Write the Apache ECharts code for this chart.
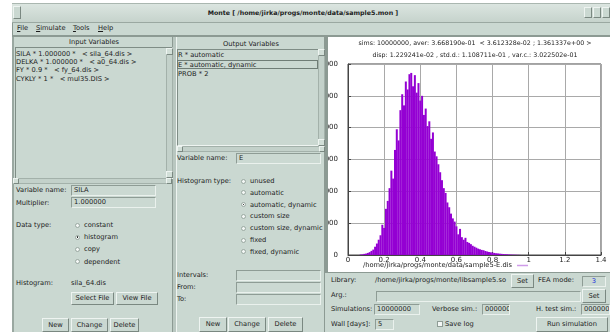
<!DOCTYPE html>
<html>
<head>
<meta charset="utf-8">
<script src="https://cdn.jsdelivr.net/npm/echarts@6/dist/echarts.min.js"></script>
<style>
  html, body { margin: 0; padding: 0; background: #ffffff; width: 610px; height: 332px; overflow: hidden; }
  #app { position: relative; width: 610px; height: 332px; font-family: "DejaVu Sans", sans-serif; font-size: 6.7px; color: #1c1c1c; }
  .lbl { position: absolute; white-space: nowrap; height: 10px; line-height: 10px; }
  .box { position: absolute; box-sizing: border-box; }
  .field { position: absolute; box-sizing: border-box; border: 1px solid; border-color: #8e9c95 #eaf1ed #eaf1ed #8e9c95; background: #cbd9d2; white-space: nowrap; padding-left: 2px; overflow: hidden; }
  .btn { position: absolute; box-sizing: border-box; border: 1px solid; border-color: #eef4f1 #7a8881 #7a8881 #eef4f1; background: #cad8d1; text-align: center; white-space: nowrap; }
  .sunken { position: absolute; box-sizing: border-box; border: 1px solid; border-color: #7f8d86 #eef4f1 #eef4f1 #7f8d86; background: #cad8d1; }
  .radio { position: absolute; width: 5px; height: 5px; border-radius: 50%; background: #f3f7f5; border: 1px solid #9aa8a1; box-sizing: border-box; }
  .radio.on::after { content: ""; position: absolute; left: 0.7px; top: 0.7px; width: 1.6px; height: 1.6px; border-radius: 50%; background: #111; }
  .check { position: absolute; width: 6px; height: 6px; background: #f3f7f5; border: 1px solid #8e9c95; box-sizing: border-box; }
  .scroll { position: absolute; box-sizing: border-box; background: #c3d1ca; border: 1px solid #a3b1aa; }
  .arrow { position: absolute; box-sizing: border-box; background: #d2dfd8; border: 1px solid; border-color: #eef4f1 #7a8881 #7a8881 #eef4f1; }
  u { text-decoration: underline; }
</style>
</head>
<body>
<div id="app"></div>
<script>
// ---- histogram of output variable E (bin centre -> count) ----
const binCenters = [
  0.06, 0.07, 0.08, 0.09, 0.10, 0.11, 0.12, 0.13, 0.14, 0.15,
  0.16, 0.17, 0.18, 0.19, 0.20, 0.21, 0.22, 0.23, 0.24, 0.25,
  0.26, 0.27, 0.28, 0.29, 0.30, 0.31, 0.32, 0.33, 0.34, 0.35,
  0.36, 0.37, 0.38, 0.39, 0.40, 0.41, 0.42, 0.43, 0.44, 0.45,
  0.46, 0.47, 0.48, 0.49, 0.50, 0.51, 0.52, 0.53, 0.54, 0.55,
  0.56, 0.57, 0.58, 0.59, 0.60, 0.61, 0.62, 0.63, 0.64, 0.65,
  0.66, 0.67, 0.68, 0.69, 0.70, 0.71, 0.72, 0.73, 0.74, 0.75,
  0.76, 0.77, 0.78, 0.79, 0.80, 0.81, 0.82, 0.83, 0.84, 0.85,
  0.86, 0.87, 0.88, 0.89, 0.90, 0.91, 0.92, 0.93, 0.94, 0.95
];
const counts = [
  0, 150, 200, 350, 450, 650, 900, 1300, 1700, 2600,
  3600, 4800, 6200, 9500, 8500, 14500, 17000, 21000, 26500, 24000,
  33000, 39500, 36000, 45500, 50500, 47000, 54500, 52000, 56800, 57200,
  53000, 56500, 51000, 54000, 48500, 50000, 44000, 46000, 40500, 42000,
  36500, 38500, 32500, 31000, 28500, 26000, 23500, 21000, 19500, 16500,
  15000, 13000, 11500, 10500, 9000, 6500, 8200, 5600, 4800, 5400,
  4100, 3800, 3400, 2900, 2600, 2300, 2000, 1800, 1600, 1500,
  1250, 1100, 950, 850, 750, 650, 550, 480, 420, 360,
  300, 260, 220, 180, 150, 120, 100, 80, 60, 40
];
const seriesName = '/home/jirka/progs/monte/data/sample5-E.dis';
const statsLines = [
  'sims: 10000000, aver: 3.668190e-01  < 3.612328e-02 ; 1.361337e+00 >',
  'disp: 1.229241e-02 , std.d.: 1.108711e-01 , var.c.: 3.022502e-01'
];
const xRange = [0, 1.4, 0.2];
const yRange = [0, 60000, 10000];

// ---- window widgets ----
const app = document.getElementById('app');
function add(cls, x, y, w, h, html, css) {
  const d = document.createElement('div');
  d.className = cls;
  d.style.left = x + 'px';
  d.style.top = y + 'px';
  if (w != null) d.style.width = w + 'px';
  if (h != null) d.style.height = h + 'px';
  if (html != null) d.innerHTML = html;
  if (css) Object.assign(d.style, css);
  app.appendChild(d);
  return d;
}
function label(x, cy, text, css) { return add('lbl', x, cy - 5, null, null, text, css); }
function field(x, y, w, h, text, css) {
  return add('field', x, y, w, h, text || '', Object.assign({ lineHeight: (h - 2) + 'px' }, css || {}));
}
function button(x, y, w, h, text) { return add('btn', x, y, w, h, text, { lineHeight: (h - 2) + 'px' }); }
function radio(cx, cy, on) { return add('radio' + (on ? ' on' : ''), cx - 2.5, cy - 2.5, null, null, null); }
function vscroll(x, y, h) {
  add('scroll', x, y, 7, h, null);
  add('arrow', x, y, 7, 7, null);
  add('arrow', x, y + h - 7, 7, 7, null);
}
function hscroll(x, y, w) {
  add('scroll', x, y, w, 6, null);
  add('arrow', x, y, 6, 6, null);
  add('arrow', x + w - 6, y, 6, 6, null);
}

// window body and title bar
add('box', 12, 3, 598, 329, null, { background: '#cad8d1', borderLeft: '1px solid #8a9891' });
add('box', 12, 3, 598, 20, null, { background: 'linear-gradient(#dbe5e0, #c6d3cc)', borderBottom: '1px solid #9aa8a1', borderTop: '1px solid #aab7b0' });
add('btn', 13, 6, 8, 13, '', { fontSize: '6px' });
add('btn', 584, 7, 8, 11, '');
add('btn', 593, 7, 8, 11, '');
add('btn', 602, 7, 8, 11, '');
label(303, 13, 'Monte [ /home/jirka/progs/monte/data/sample5.mon ]', { transform: 'translateX(-50%)', fontWeight: 'bold', fontSize: '6.3px' });

// menu bar
label(17, 28, '<u>F</u>ile');
label(36, 28, '<u>S</u>imulate');
label(73, 28, '<u>T</u>ools');
label(98, 28, '<u>H</u>elp');
add('box', 12, 35, 598, 2, null, { background: '#8c9a93' });

// column frames
add('box', 12, 37, 161, 295, null, { borderLeft: '2px solid #9aa8a1', borderRight: '1px solid #8c9a93' });
add('box', 173, 37, 3, 295, null, { background: '#b9c7c0' });
add('box', 176, 37, 149, 295, null, { borderLeft: '1px solid #eef4f1', borderRight: '1px solid #8c9a93' });
add('box', 325, 37, 3, 236, null, { background: '#8c9a93' });

// ---- input variables column ----
label(94, 42, 'Input Variables', { transform: 'translateX(-50%)' });
add('sunken', 15, 47, 158, 132, null);
['SILA * 1.000000 *&nbsp;&nbsp; &lt; sila_64.dis &gt;',
 'DELKA * 1.000000 *&nbsp;&nbsp; &lt; a0_64.dis &gt;',
 'FY * 0.9 *&nbsp;&nbsp; &lt; fy_64.dis &gt;',
 'CYKLY * 1 *&nbsp;&nbsp; &lt; mul35.DIS &gt;'].forEach((t, i) => label(16, 54 + i * 8.2, t));
vscroll(166, 48, 130);
hscroll(13, 178, 159);
label(16, 190, 'Variable name:');
field(71, 185, 85, 11, 'SILA');
label(16, 203, 'Multiplier:');
field(71, 197, 85, 11, '1.000000');
label(16, 225, 'Data type:');
[['constant', false], ['histogram', true], ['copy', false], ['dependent', false]].forEach((r, i) => {
  const cy = 225 + i * 12.2;
  radio(77.5, cy, r[1]);
  label(84, cy, r[0]);
});
label(16, 283, 'Histogram:');
label(71, 283, 'sila_64.dis');
button(71, 292, 43, 13, 'Select File');
button(116, 292, 42, 13, 'View File');
button(42, 318, 27, 14, 'New');
button(71, 318, 37, 14, 'Change');
button(110, 318, 29, 14, 'Delete');

// ---- output variables column ----
label(251, 44, 'Output Variables', { transform: 'translateX(-50%)' });
add('sunken', 177, 49, 142, 97, null);
label(178, 55, 'R * automatic');
add('box', 177, 60, 141, 9, null, { border: '1px solid #6f7d76' });
label(178, 64.5, 'E * automatic, dynamic');
label(178, 73.5, 'PROB * 2');
vscroll(318, 49, 97);
hscroll(177, 146, 148);
label(177, 158, 'Variable name:');
field(236, 153, 85, 11, 'E');
label(177, 181, 'Histogram type:');
['unused', 'automatic', 'automatic, dynamic', 'custom size', 'custom size, dynamic', 'fixed', 'fixed, dynamic']
  .forEach((t, i) => {
    const cy = 181 + i * 11.8;
    radio(243.5, cy, i === 2);
    label(250, cy, t);
  });
label(177, 275, 'Intervals:');
field(236, 270, 85, 11, '');
label(177, 287, 'From:');
field(236, 282, 85, 11, '');
label(177, 299, 'To:');
field(236, 294, 85, 11, '');
button(199, 317, 28, 15, 'New');
button(228, 317, 38, 15, 'Change');
button(268, 317, 35, 15, 'Delete');

// ---- simulation controls under the plot ----
add('box', 328, 272, 282, 1, null, { background: '#8c9a93' });
label(331, 280, 'Library:');
label(375, 280, '/home/jirka/progs/monte/libsample5.so');
button(511, 274, 23, 14, 'Set');
label(538, 280, 'FEA mode:');
field(582, 276, 24, 11, '3', { color: '#2233dd', textAlign: 'center', paddingLeft: '0' });
label(331, 295, 'Arg.:');
field(376, 291, 205, 11, '');
button(582, 289, 24, 14, 'Set');
label(331, 309, 'Simulations:');
field(374, 304, 46, 11, '10000000');
label(432, 309, 'Verbose sim.:');
field(482, 304, 28, 11, '000000');
label(536, 309, 'H. test sim.:');
field(581, 304, 29, 11, '000000');
label(331, 324, 'Wall [days]:');
field(375, 319, 19, 11, '5');
add('check', 437, 321, null, null, null);
label(445, 324, 'Save log');
button(536, 317, 72, 15, 'Run simulation');

// ---- histogram chart ----
const chartBox = add('box', 328, 37, 282, 235, null, { background: '#ffffff' });
const chart = echarts.init(chartBox, null, { renderer: 'canvas' });
const font = 'DejaVu Sans';
chart.setOption({
  animation: false,
  backgroundColor: '#ffffff',
  title: {
    text: statsLines.join('\n'),
    left: 147,
    top: 0,
    padding: 0,
    textAlign: 'center',
    textStyle: { fontFamily: font, fontSize: 6.3, fontWeight: 'normal', color: '#222', lineHeight: 12 }
  },
  legend: {
    left: 35,
    top: 225,
    padding: 0,
    align: 'right',
    itemWidth: 11,
    itemHeight: 1.5,
    itemGap: 4,
    icon: 'rect',
    data: [{ name: seriesName, itemStyle: { color: '#cf9be9' } }],
    textStyle: { fontFamily: font, fontSize: 6.7, color: '#222', padding: [0, 0, 0, 0] }
  },
  grid: {
    left: 20, right: 9, top: 27, bottom: 17,
    containLabel: false,
    outerBoundsMode: 'none',
    show: true, borderColor: '#444', borderWidth: 1, backgroundColor: '#ffffff'
  },
  xAxis: {
    type: 'value',
    min: xRange[0], max: xRange[1], interval: xRange[2],
    axisLine: { lineStyle: { color: '#444' } },
    axisTick: { inside: true, length: 3, lineStyle: { color: '#444' } },
    splitLine: { show: true, lineStyle: { color: '#a9a9a9', width: 1 } },
    axisLabel: { fontFamily: font, fontSize: 7, color: '#222', margin: 2 }
  },
  yAxis: {
    type: 'value',
    min: yRange[0], max: yRange[1], interval: yRange[2],
    axisLine: { show: true, lineStyle: { color: '#444' } },
    axisTick: { show: true, inside: true, length: 3, lineStyle: { color: '#444' } },
    splitLine: { show: true, lineStyle: { color: '#a9a9a9', width: 1 } },
    axisLabel: { fontFamily: font, fontSize: 7, color: '#222', margin: 10, formatter: v => String(v) }
  },
  series: [{
    name: seriesName,
    type: 'bar',
    barWidth: 2,
    itemStyle: { color: '#9400d3' },
    data: binCenters.map((x, i) => [x, counts[i]])
  }]
});
</script>
</body>
</html>
